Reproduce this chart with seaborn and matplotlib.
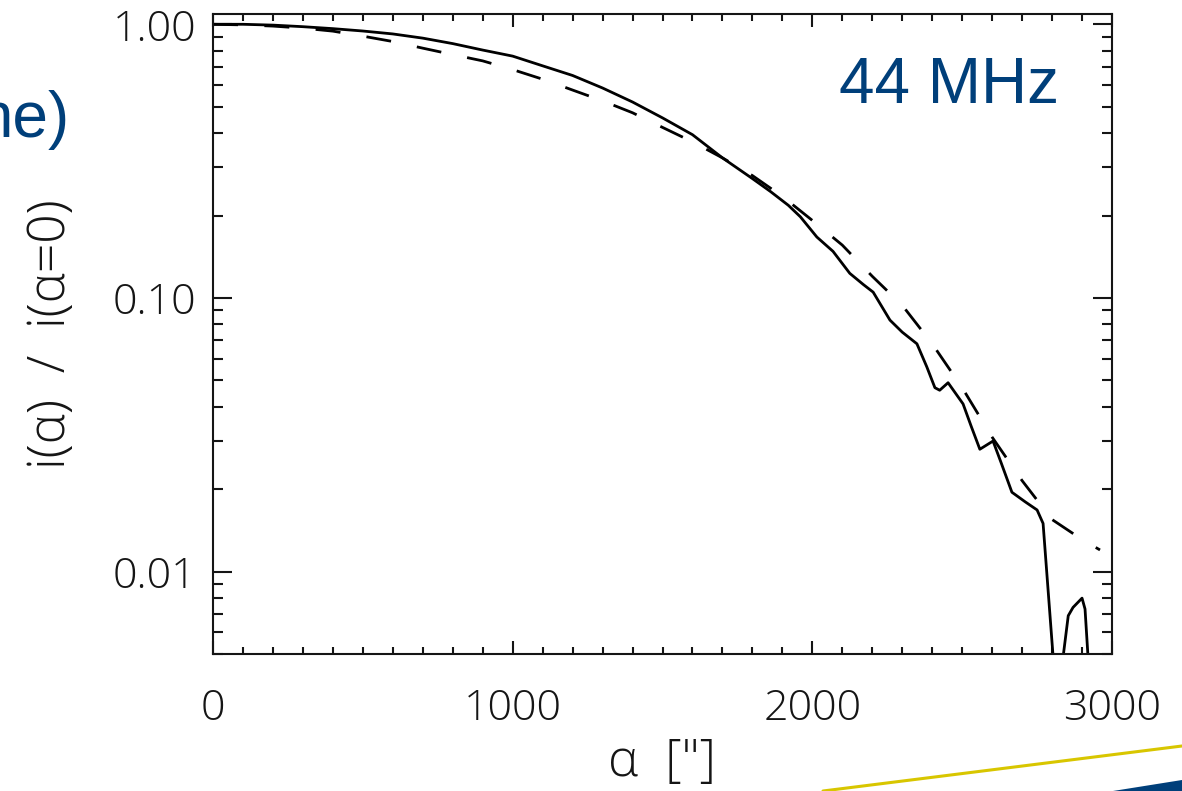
import numpy as np
import seaborn as sns
import matplotlib
matplotlib.use("Agg")
import matplotlib.pyplot as plt
from matplotlib.ticker import FixedLocator, MultipleLocator, LogLocator, NullFormatter, FixedFormatter
from matplotlib.lines import Line2D
from matplotlib.patches import Polygon
from matplotlib import font_manager

# Observed intensity profile i(alpha)/i(alpha=0) at 44 MHz
alpha_obs = [0, 100, 200, 300, 400, 500, 600, 700, 800, 900, 1000, 1100, 1200,
             1300, 1400, 1500, 1600, 1700, 1800, 1860, 1920, 1960, 2015, 2069,
             2125, 2170, 2203, 2259, 2300, 2349, 2382, 2409, 2425, 2453, 2503,
             2530, 2559, 2603, 2630, 2666, 2710, 2750, 2770, 2804, 2820, 2836,
             2854, 2870, 2900, 2910, 2922, 2935]
ratio_obs = [1.0, 1.0, 0.993, 0.98, 0.964, 0.945, 0.922, 0.89, 0.85, 0.805,
             0.765, 0.705, 0.65, 0.585, 0.52, 0.455, 0.395, 0.325, 0.273,
             0.245, 0.218, 0.198, 0.167, 0.148, 0.123, 0.112, 0.105, 0.083,
             0.075, 0.068, 0.056, 0.047, 0.046, 0.049, 0.041, 0.034, 0.028,
             0.030, 0.025, 0.0195, 0.018, 0.0168, 0.015, 0.0048, 0.002, 0.0048,
             0.0069, 0.0074, 0.0080, 0.0073, 0.0045, 0.002]

# Model profile (dashed)
alpha_mod = [0, 100, 200, 300, 400, 500, 600, 700, 800, 900, 1000, 1100, 1200,
             1300, 1400, 1500, 1600, 1700, 1800, 1900, 2000, 2100, 2200, 2300,
             2400, 2500, 2600, 2700, 2800, 2900, 2960]
ratio_mod = [1.0, 0.995, 0.985, 0.968, 0.944, 0.905, 0.865, 0.818, 0.775,
             0.735, 0.683, 0.630, 0.575, 0.525, 0.475, 0.42, 0.372, 0.325,
             0.28, 0.235, 0.192, 0.156, 0.120, 0.094, 0.068, 0.047, 0.031,
             0.0215, 0.0155, 0.0131, 0.0120]

y_ticks = [0.01, 0.1, 1.0]
y_ticklabels = ["0.01", "0.10", "1.00"]
x_ticks = [0, 1000, 2000, 3000]
x_ticklabels = ["0", "1000", "2000", "3000"]

sns.set_style("ticks")

# pick a light sans face for the axis texts
thin, weight = "DejaVu Sans", "normal"
for fam in ["Open Sans", "Roboto", "Noto Sans", "Inter"]:
    ws = [f.weight for f in font_manager.fontManager.ttflist if f.name == fam]
    if any(w in (300, "light") for w in ws):
        thin, weight = fam, 300
        break
plt.rcParams["font.family"] = [thin, "DejaVu Sans"]

W, H = 1182, 791
fig = plt.figure(figsize=(W / 100, H / 100), dpi=100)
ax = fig.add_axes([213 / W, 1 - 654 / H, (1112 - 213) / W, (654 - 13.5) / H])

ink = "#151515"
sns.lineplot(x=alpha_obs, y=ratio_obs, ax=ax, color="black", lw=2.0,
             sort=False, estimator=None)
sns.lineplot(x=alpha_mod, y=ratio_mod, ax=ax, color="black", lw=2.0,
             ls=(0, (9.0, 9.5)), sort=False, estimator=None)

ax.set_yscale("log")
ax.set_xlim(0, 3000)
ax.set_ylim(0.005, 1.095)

ax.xaxis.set_major_locator(FixedLocator(x_ticks))
ax.xaxis.set_major_formatter(FixedFormatter(x_ticklabels))
ax.xaxis.set_minor_locator(MultipleLocator(100))
ax.yaxis.set_major_locator(FixedLocator(y_ticks))
ax.yaxis.set_major_formatter(FixedFormatter(y_ticklabels))
ax.yaxis.set_minor_locator(LogLocator(base=10, subs=np.arange(2, 10)))
ax.yaxis.set_minor_formatter(NullFormatter())

for s in ax.spines.values():
    s.set_visible(True)
    s.set_linewidth(1.5)
    s.set_color(ink)

ax.tick_params(axis="both", which="both", direction="in", top=True, right=True,
               color=ink, width=1.5, labelcolor=ink)
ax.tick_params(axis="x", which="major", length=9.5, pad=24, labelsize=31)
ax.tick_params(axis="x", which="minor", length=5)
ax.tick_params(axis="y", which="major", length=13.5, pad=12, labelsize=31)
ax.tick_params(axis="y", which="minor", length=7)
for lab in ax.get_xticklabels() + ax.get_yticklabels():
    lab.set_fontweight(weight)

ax.set_xlabel('α  ["]', fontsize=37, color=ink, fontweight=weight, labelpad=5)
ax.set_ylabel("i(α)  /  i(α=0)", fontsize=37, color=ink, fontweight=weight,
              labelpad=26)
ax.set_facecolor("white")

blue = "#003f7a"
fig.text(839 / W, 1 - 103 / H, "44 MHz", color=blue, fontsize=46,
         family=["Liberation Sans", "DejaVu Sans"], ha="left", va="baseline")
fig.text(70 / W, 1 - 137 / H, "ne)", color=blue, fontsize=46,
         family=["Liberation Sans", "DejaVu Sans"], ha="right", va="baseline")

# Slide footer ornaments
fig.add_artist(Line2D([823 / W, 1.0], [1 - 791 / H, 1 - 746 / H],
                      transform=fig.transFigure, color="#d8c600", lw=2.2))
fig.add_artist(Polygon([[1113 / W, 0.0], [1.0, 1 - 780 / H], [1.0, 0.0]],
                       closed=True, transform=fig.transFigure,
                       facecolor=blue, edgecolor="none"))

fig.savefig("out.png", dpi=100, facecolor="white")
